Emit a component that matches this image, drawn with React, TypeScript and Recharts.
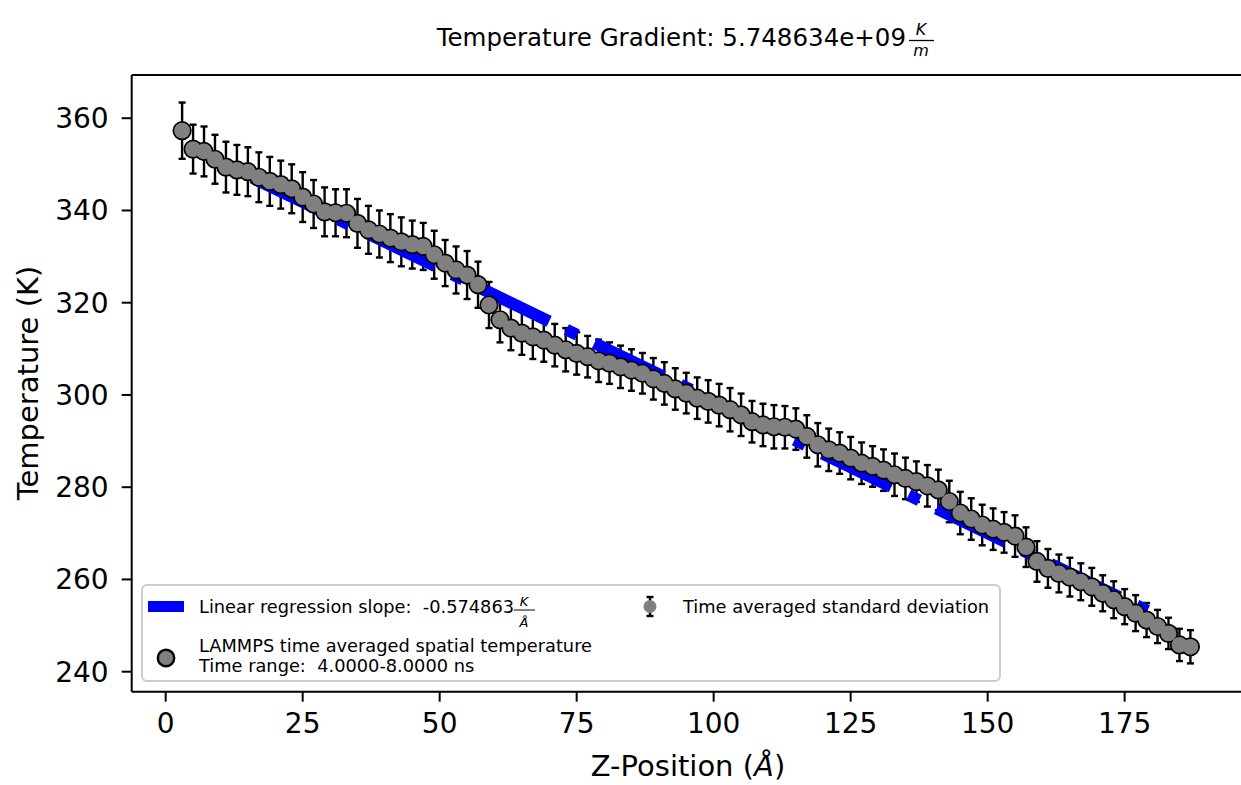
import React from "react";
import { ScatterChart, Scatter, XAxis, YAxis, ErrorBar, ReferenceLine } from "recharts";

// bin centres along z (Å)
const zPos = [
  3, 5, 7, 9, 11, 13, 15, 17, 19, 21, 23, 25, 27, 29, 31, 33, 35, 37, 39, 41,
  43, 45, 47, 49, 51, 53, 55, 57, 59, 61, 63, 65, 67, 69, 71, 73, 75, 77, 79, 81,
  83, 85, 87, 89, 91, 93, 95, 97, 99, 101, 103, 105, 107, 109, 111, 113, 115, 117, 119, 121,
  123, 125, 127, 129, 131, 133, 135, 137, 139, 141, 143, 145, 147, 149, 151, 153, 155, 157, 159, 161,
  163, 165, 167, 169, 171, 173, 175, 177, 179, 181, 183, 185, 187,
];

// time averaged temperature (K)
const tempK = [
  357.3, 353.3, 352.8, 351.1, 349.4, 348.8, 348.4, 347.2, 346.3, 345.6,
  344.7, 342.9, 341.4, 339.7, 339.5, 339.4, 337.2, 335.8, 334.9, 334.0,
  333.2, 332.6, 332.2, 330.4, 328.6, 327.1, 326.0, 323.9, 319.5, 316.3,
  314.5, 313.4, 312.6, 311.9, 310.8, 309.8, 309.0, 308.3, 307.4, 306.9,
  306.1, 305.4, 304.7, 303.5, 302.5, 301.3, 300.4, 299.3, 298.6, 297.8,
  296.8, 295.7, 294.2, 293.5, 293.1, 293.0, 292.6, 291.0, 289.2, 288.1,
  287.4, 286.3, 285.2, 284.5, 283.7, 282.7, 281.9, 281.2, 280.3, 279.4,
  276.9, 274.4, 273.1, 271.8, 270.9, 270.2, 269.4, 267.0, 263.9, 262.4,
  261.3, 260.5, 259.5, 258.4, 257.0, 255.6, 254.1, 252.7, 251.2, 249.8,
  248.3, 245.8, 245.4,
];

// time averaged standard deviation (K)
const tempStd = [
  6.1,
  5.3, 5.4, 5.3, 5.5, 5.4, 5.3, 5.4, 5.3, 5.2, 5.3, 5.4,
  5.2, 5.3, 5.1, 5.2, 5.3, 5.2, 5.1, 5.2, 5.3, 5.2, 5.1, 5.2, 5.0, 5.1, 5.2, 5.0,
  5.0, 4.9, 4.8, 4.7, 4.8, 4.7, 4.6, 4.7, 4.6, 4.5, 4.6, 4.5, 4.6, 4.5, 4.4, 4.5, 4.6, 4.5, 4.4, 4.5, 4.6,
  4.6, 4.7, 4.6, 4.5, 4.6, 4.7, 4.6, 4.5, 4.6, 4.7, 4.6, 4.5, 4.6, 4.5, 4.4, 4.5, 4.6, 4.5, 4.4, 4.5, 4.4,
  4.5, 4.6, 4.5, 4.4, 4.5, 4.4, 4.5, 4.3, 4.4, 4.2, 4.1, 4.2, 4.0, 4.1, 3.9, 4.0, 3.8, 3.9, 3.7, 3.6, 3.4, 3.5, 3.6,
];

// regression line end points (visible part)
const fitZ = [4.5, 182];
const fitT = [353.6, 251.6];

const xTicks = [0, 25, 50, 75, 100, 125, 150, 175];
const yTicks = [240, 260, 280, 300, 320, 340, 360];

const points = zPos.map((z, i) => ({ z, t: tempK[i], err: tempStd[i] }));
const fitLine = fitZ.map((z, i) => ({ z, fit: fitT[i] }));

const FONT = '"DejaVu Sans", sans-serif';
const X_DOMAIN: [number, number] = [-6.2, 197.2];
const Y_DOMAIN: [number, number] = [235.66, 369.37];

const emptyShape = () => <g />;
const edgedDot = (p: any) => (
  <circle cx={p.cx} cy={p.cy} r={7.9} fill="#808080" stroke="#000" strokeWidth={3.4} />
);
const grayDot = (p: any) => <circle cx={p.cx} cy={p.cy} r={7.9} fill="#808080" />;

const axisLine = { stroke: "#000", strokeWidth: 2 };
const tickLine = { stroke: "#000", strokeWidth: 2 };

export default function App() {
  return (
    <div
      style={{
        position: "absolute",
        left: 0,
        top: 0,
        width: 1241,
        height: 785,
        overflow: "hidden",
        background: "#fff",
        fontFamily: FONT,
      }}
    >
      <ScatterChart width={1250} height={785} margin={{ top: 75, right: 3.7, bottom: 33.3, left: 31.7 }}>
        <XAxis
          type="number"
          dataKey="z"
          domain={X_DOMAIN}
          allowDataOverflow
          ticks={xTicks}
          interval={0}
          height={60}
          tickSize={10}
          tickMargin={11}
          axisLine={axisLine}
          tickLine={tickLine}
          tick={{ fill: "#000", fontSize: 28, fontFamily: FONT }}
        />
        <YAxis
          type="number"
          domain={Y_DOMAIN}
          allowDataOverflow
          ticks={yTicks}
          interval={0}
          width={100}
          tickSize={10}
          tickMargin={13}
          axisLine={axisLine}
          tickLine={tickLine}
          tick={{ fill: "#000", fontSize: 28, fontFamily: FONT }}
        />
        <ReferenceLine y={Y_DOMAIN[1]} stroke="#000" strokeWidth={2} />
        <ReferenceLine x={X_DOMAIN[1]} stroke="#000" strokeWidth={2} />
        <Scatter
          data={fitLine}
          dataKey="fit"
          shape={emptyShape}
          line={{ stroke: "#0000ff", strokeWidth: 12, strokeDasharray: "76.5 19.1 12 19.1", strokeDashoffset: 58 }}
          isAnimationActive={false}
        />
        <Scatter data={points} dataKey="t" shape={edgedDot} isAnimationActive={false} />
        <Scatter data={points} dataKey="t" shape={emptyShape} isAnimationActive={false}>
          <ErrorBar dataKey="err" direction="y" width={3.5} stroke="#000" strokeWidth={2.4} />
        </Scatter>
        <Scatter data={points} dataKey="t" shape={grayDot} isAnimationActive={false} />
      </ScatterChart>

      <svg
        width={1241}
        height={785}
        style={{ position: "absolute", left: 0, top: 0, pointerEvents: "none" }}
        fontFamily={FONT}
      >
        {/* title */}
        <text x={906} y={46} fontSize={24.5} textAnchor="end" fill="#000">
          Temperature Gradient: 5.748634e+09
        </text>
        <text x={921} y={35} fontSize={16} fontStyle="italic" textAnchor="middle">K</text>
        <line x1={909} x2={934} y1={40.5} y2={40.5} stroke="#000" strokeWidth={1.3} />
        <text x={921} y={56} fontSize={16} fontStyle="italic" textAnchor="middle">m</text>

        {/* axis labels */}
        <text x={688} y={776} fontSize={29} textAnchor="middle">
          Z-Position (<tspan fontStyle="italic">Å</tspan>)
        </text>
        <text transform="rotate(-90)" x={-383} y={38} fontSize={29} textAnchor="middle">
          Temperature (K)
        </text>

        {/* legend */}
        <rect x={142} y={585} width={858} height={96} rx={5} fill="#fff" fillOpacity={0.8} stroke="#cccccc" strokeWidth={2} />
        <rect x={148} y={601} width={36} height={11} fill="#0000ff" />
        <text x={199} y={613} fontSize={17.8} style={{ whiteSpace: "pre" }}>
          {"Linear regression slope:  -0.574863"}
        </text>
        <text x={524} y={606} fontSize={13} fontStyle="italic" textAnchor="middle">K</text>
        <line x1={514} x2={535} y1={610} y2={610} stroke="#000" strokeWidth={1} />
        <text x={524} y={627} fontSize={13} fontStyle="italic" textAnchor="middle">Å</text>

        <line x1={650} x2={650} y1={597} y2={616} stroke="#000" strokeWidth={2.4} />
        <line x1={646.5} x2={653.5} y1={597} y2={597} stroke="#000" strokeWidth={2.4} />
        <line x1={646.5} x2={653.5} y1={616} y2={616} stroke="#000" strokeWidth={2.4} />
        <circle cx={650} cy={606.5} r={6.5} fill="#808080" />
        <text x={683} y={613} fontSize={17.8}>Time averaged standard deviation</text>

        <circle cx={166} cy={658} r={8.2} fill="#808080" stroke="#000" strokeWidth={2.4} />
        <text x={199} y={652} fontSize={17.8}>LAMMPS time averaged spatial temperature</text>
        <text x={199} y={672} fontSize={17.8} style={{ whiteSpace: "pre" }}>
          {"Time range:  4.0000-8.0000 ns"}
        </text>
      </svg>
    </div>
  );
}
